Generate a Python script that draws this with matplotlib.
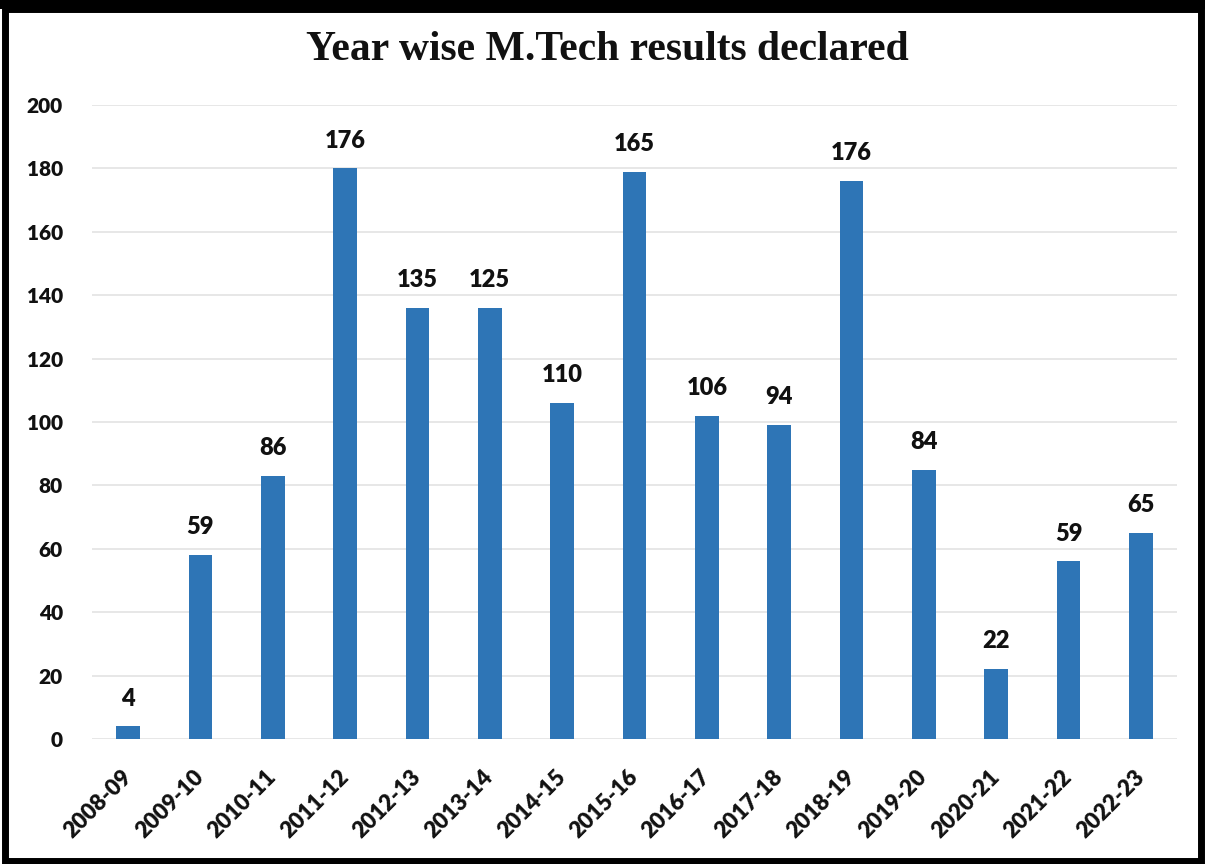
import matplotlib
matplotlib.use("Agg")
import matplotlib.pyplot as plt
from matplotlib.patches import Rectangle

categories = ["2008-09", "2009-10", "2010-11", "2011-12", "2012-13", "2013-14", "2014-15",
              "2015-16", "2016-17", "2017-18", "2018-19", "2019-20", "2020-21", "2021-22", "2022-23"]
# bar heights as drawn in the reference
bar_heights = [4, 58, 83, 180, 136, 136, 106, 179, 102, 99, 176, 85, 22, 56, 65]
# data labels as printed in the reference
label_texts = ["4", "59", "86", "176", "135", "125", "110", "165", "106", "94", "176", "84", "22", "59", "65"]
yticks = [0, 20, 40, 60, 80, 100, 120, 140, 160, 180, 200]
title = "Year wise M.Tech results declared"

SANS = ["Lato", "DejaVu Sans"]
W = "heavy"

fig = plt.figure(figsize=(12.05, 8.64), dpi=100, facecolor="white")
ax = fig.add_axes([0.0763, 0.1447, 0.9005, 0.7338])

x = list(range(len(categories)))
ax.bar(x, bar_heights, width=0.33, color="#2E75B6", zorder=3)

for xi, h, t in zip(x, bar_heights, label_texts):
    ax.annotate(t, (xi, h), xytext=(0, 20), textcoords="offset points",
                ha="center", va="center", fontsize=17, fontweight=W,
                family=SANS, color="#111111")

ax.set_xlim(-0.5, len(categories) - 0.5)
ax.set_ylim(0, 200)
ax.set_yticks(yticks)
ax.set_yticklabels([str(v) for v in yticks], fontsize=15, fontweight=W, family=SANS, color="#111111")
ax.set_xticks(x)
ax.set_xticklabels(categories, rotation=45, ha="right", va="center", rotation_mode="anchor",
                   fontsize=16, fontweight=W, family=SANS, color="#111111")
ax.tick_params(axis="both", length=0)
ax.tick_params(axis="x", pad=25)
ax.tick_params(axis="y", pad=21)
ax.grid(axis="y", color="#e3e3e3", linewidth=1.2, zorder=0)
for s in ax.spines.values():
    s.set_visible(False)

fig.text(0.504, 0.942, title, ha="center", va="center", fontsize=30, fontweight="bold",
         family="Liberation Serif", color="#111111")

# black frame around the image
fig.patches.append(Rectangle((0.004, 0.004), 0.993, 0.986, transform=fig.transFigure,
                             fill=False, edgecolor="black", linewidth=5))
fig.patches.append(Rectangle((0.0, 0.99), 1.0, 0.01, transform=fig.transFigure,
                             facecolor="black", edgecolor="none"))

fig.savefig("out.png", dpi=100, facecolor="white")
